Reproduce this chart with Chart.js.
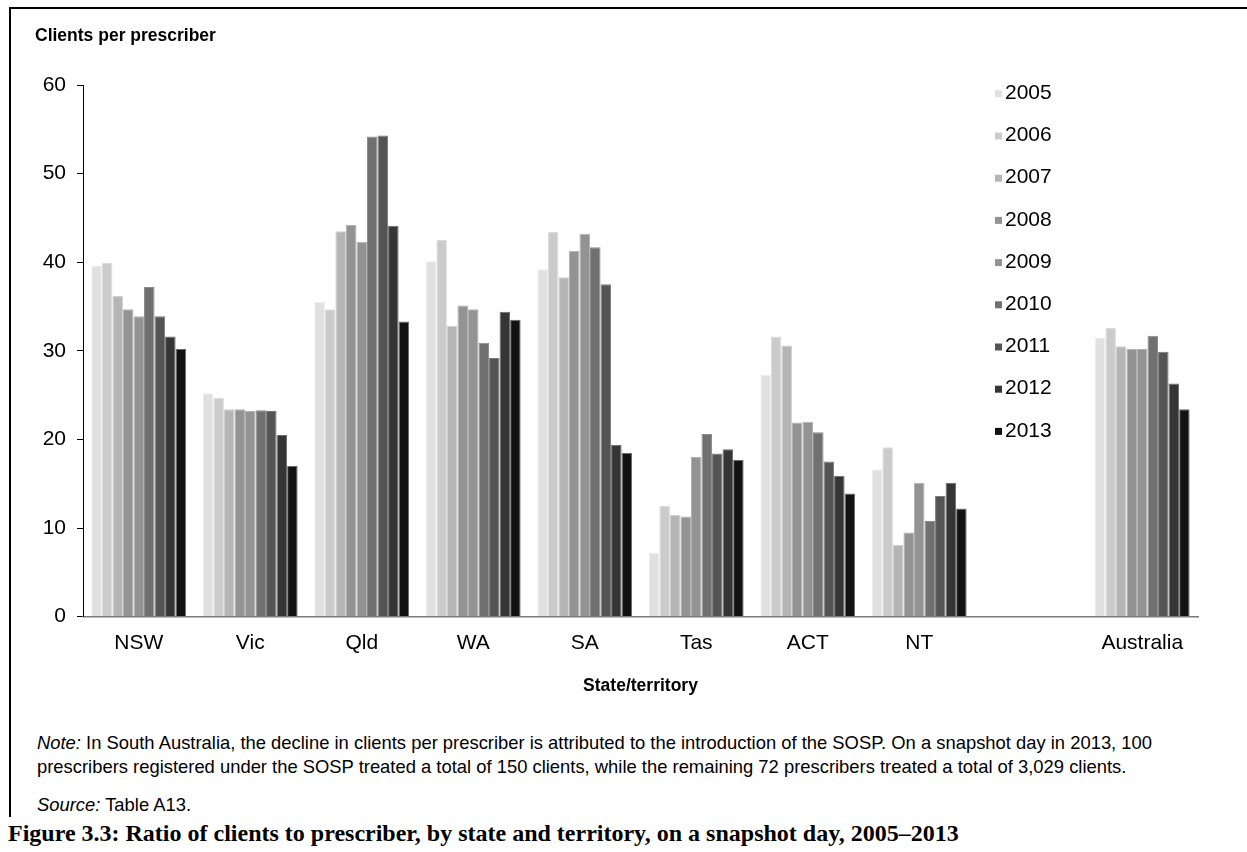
<!DOCTYPE html>
<html>
<head>
<meta charset="utf-8">
<script src="https://cdn.jsdelivr.net/npm/chart.js@4/dist/chart.umd.min.js"></script>
<style>
  html, body { margin: 0; padding: 0; background: #fff; }
  body { width: 1247px; height: 852px; position: relative; overflow: hidden;
         font-family: "Liberation Sans", Arial, sans-serif; color: #000; }
  #frame { position: absolute; left: 9px; top: 7px; width: 1260px; height: 808px;
           border-left: 2px solid #000; border-top: 2px solid #000; }
  #wrap { position: absolute; left: 0; top: 0; width: 1247px; height: 720px; }
  #ytitle { position: absolute; left: 35px; top: 24px; font-weight: bold; font-size: 17.5px; line-height: 22px; white-space: nowrap; }
  .note { position: absolute; left: 37px; font-size: 18.4px; line-height: 24px; white-space: nowrap; }
  #caption { position: absolute; left: 8px; top: 819px; white-space: nowrap; line-height: 28px;
             font-family: "Liberation Serif", "DejaVu Serif", serif; font-weight: bold; font-size: 24px; }
</style>
</head>
<body>
<div id="frame"></div>
<div id="wrap"><canvas id="chart"></canvas></div>
<div id="ytitle">Clients per prescriber</div>
<div class="note" style="top:731px"><i>Note:</i> In South Australia, the decline in clients per prescriber is attributed to the introduction of the SOSP. On a snapshot day in 2013, 100<br>prescribers registered under the SOSP treated a total of 150 clients, while the remaining 72 prescribers treated a total of 3,029 clients.</div>
<div class="note" style="top:793px"><i>Source:</i> Table A13.</div>
<div id="caption">Figure 3.3: Ratio of clients to prescriber, by state and territory, on a snapshot day, 2005–2013</div>

<script>
// States/territories; the empty slot leaves room for the legend before the national figure
const categories = ['NSW', 'Vic', 'Qld', 'WA', 'SA', 'Tas', 'ACT', 'NT', '', 'Australia'];
const years = ['2005', '2006', '2007', '2008', '2009', '2010', '2011', '2012', '2013'];

// Clients per prescriber, one array per snapshot year (same order as categories)
const v2005 = [39.6, 25.2, 35.5, 40.1, 39.2, 7.2, 27.3, 16.6, null, 31.5];
const v2006 = [39.9, 24.7, 34.7, 42.5, 43.4, 12.5, 31.6, 19.1, null, 32.6];
const v2007 = [36.2, 23.4, 43.5, 32.8, 38.3, 11.5, 30.6, 8.1, null, 30.5];
const v2008 = [34.7, 23.4, 44.2, 35.1, 41.3, 11.3, 21.9, 9.5, null, 30.2];
const v2009 = [33.9, 23.2, 42.3, 34.7, 43.2, 18.0, 22.0, 15.1, null, 30.2];
const v2010 = [37.2, 23.3, 54.2, 30.9, 41.7, 20.6, 20.8, 10.8, null, 31.7];
const v2011 = [33.9, 23.2, 54.3, 29.2, 37.5, 18.4, 17.5, 13.6, null, 29.9];
const v2012 = [31.6, 20.5, 44.1, 34.4, 19.4, 18.9, 15.9, 15.1, null, 26.3];
const v2013 = [30.2, 17.0, 33.3, 33.5, 18.5, 17.7, 13.9, 12.2, null, 23.4];

const yTicks = [0, 10, 20, 30, 40, 50, 60];

const seriesValues = [v2005, v2006, v2007, v2008, v2009, v2010, v2011, v2012, v2013];
const fills   = ['#e0e0e0', '#cbcbcb', '#b5b5b5', '#939393', '#939393', '#707070', '#545454', '#353535', '#121212'];
const strokes = ['#ececec', '#dcdcdc', '#cfcfcf', '#b2b2b2', '#b2b2b2', '#8c8c8c', '#7a7a7a', '#6a6a6a', '#6a6a6a'];

const FONT = '"Liberation Sans", Arial, sans-serif';

// Legend stacked in the empty slot on the right of the plot
const yearLegend = {
  id: 'yearLegend',
  afterDraw(chart) {
    const { ctx } = chart;
    const x0 = 995, top = 93.3, step = 42.2;
    ctx.save();
    ctx.font = '21px ' + FONT;
    ctx.textBaseline = 'middle';
    ctx.textAlign = 'left';
    chart.data.datasets.forEach((ds, i) => {
      const y = top + i * step;
      ctx.fillStyle = ds.backgroundColor;
      ctx.fillRect(x0, y - 3, 7, 7);
      ctx.fillStyle = '#000';
      ctx.fillText(ds.label, x0 + 10, y);
    });
    ctx.restore();
  }
};

new Chart(document.getElementById('chart'), {
  type: 'bar',
  data: {
    labels: categories,
    datasets: years.map((yr, i) => ({
      label: yr,
      data: seriesValues[i],
      backgroundColor: fills[i],
      borderColor: strokes[i],
      borderWidth: 1,
      categoryPercentage: 0.85,
      barPercentage: 1.0
    }))
  },
  options: {
    responsive: true,
    maintainAspectRatio: false,
    animation: false,
    layout: { padding: { left: 0, top: 85, right: 49, bottom: 0 } },
    plugins: {
      legend: { display: false },
      tooltip: { enabled: false }
    },
    scales: {
      x: {
        grid: { display: false, drawTicks: false },
        border: { display: true, color: '#7a7a7a', width: 1.5 },
        ticks: { color: '#000', font: { family: FONT, size: 21 }, padding: 14, maxRotation: 0, autoSkip: false },
        title: { display: true, text: 'State/territory', color: '#000',
                 font: { family: FONT, size: 17.5, weight: 'bold' }, padding: { top: 0, bottom: 23 } },
        afterFit(scale) { scale.height = 103.4; }
      },
      y: {
        min: 0, max: 60,
        afterBuildTicks(scale) { scale.ticks = yTicks.map(v => ({ value: v })); },
        grid: { display: true, drawOnChartArea: false, drawTicks: true, tickLength: 6, color: '#000' },
        border: { display: true, color: '#000', width: 1 },
        ticks: { color: '#000', font: { family: FONT, size: 21 }, padding: 11 },
        afterFit(scale) { scale.width = 83; }
      }
    }
  },
  plugins: [yearLegend]
});
</script>
</body>
</html>
